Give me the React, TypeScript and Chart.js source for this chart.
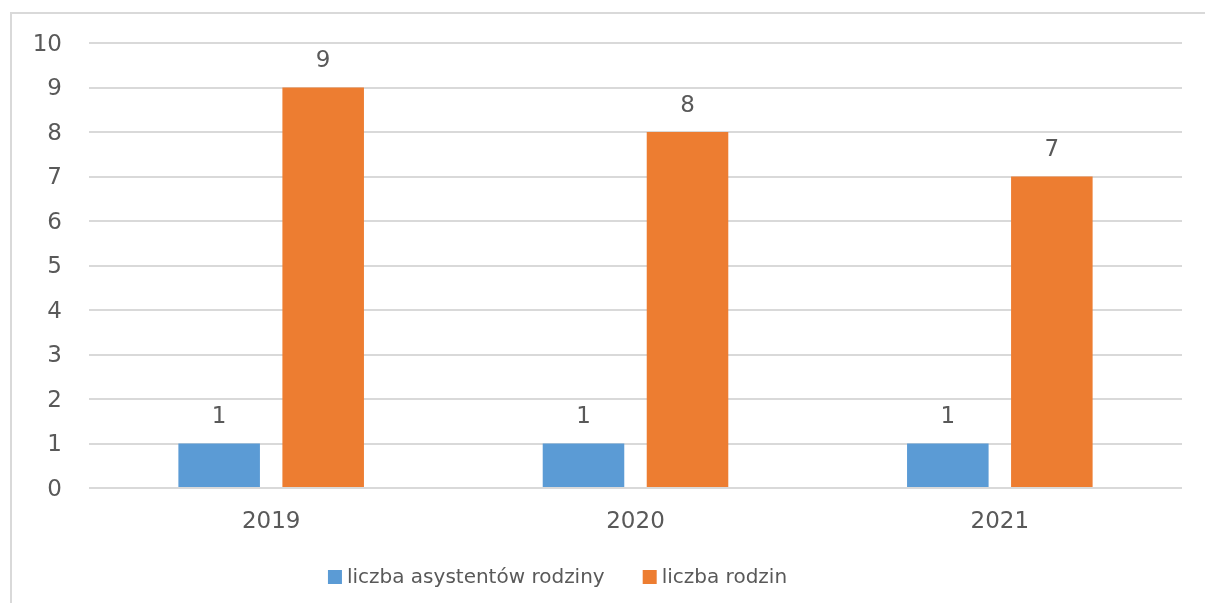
import React, { useEffect, useRef } from "react";
import { Chart, registerables } from "chart.js";

Chart.register(...registerables);

const categories = ["2019", "2020", "2021"];
const seriesNames = ["liczba asystentów rodziny", "liczba rodzin"];
const assistants = [1, 1, 1];
const families = [9, 8, 7];
const yMin = 0;
const yMax = 10;
const yStep = 1;
const seriesColors = ["#5B9BD5", "#ED7D31"];

const FONT = "'DejaVu Sans', sans-serif";
const TEXT = "#595959";
const GRID = "#D9D9D9";

const dataLabels = {
  id: "dataLabels",
  afterDatasetsDraw(chart: any) {
    const ctx = chart.ctx;
    ctx.save();
    ctx.font = `23px ${FONT}`;
    ctx.fillStyle = TEXT;
    ctx.textAlign = "center";
    ctx.textBaseline = "middle";
    chart.data.datasets.forEach((ds: any, i: number) => {
      const meta = chart.getDatasetMeta(i);
      meta.data.forEach((el: any, j: number) => {
        ctx.fillText(String(ds.data[j]), el.x, el.y - 26);
      });
    });
    ctx.restore();
  },
};

const customLegend = {
  id: "customLegend",
  afterDraw(chart: any) {
    const ctx = chart.ctx;
    ctx.save();
    ctx.font = `20px ${FONT}`;
    ctx.textBaseline = "middle";
    ctx.textAlign = "left";
    const box = 14;
    const gap = 5;
    const itemGap = 38;
    const widths = chart.data.datasets.map((d: any) => ctx.measureText(d.label).width);
    const total = widths.reduce((a: number, w: number) => a + box + gap + w, 0) + itemGap * (widths.length - 1);
    const centerX = 557.5;
    const cy = 577;
    let x = centerX - total / 2;
    chart.data.datasets.forEach((d: any, i: number) => {
      ctx.fillStyle = d.backgroundColor;
      ctx.fillRect(x, cy - box / 2, box, box);
      x += box + gap;
      ctx.fillStyle = TEXT;
      ctx.fillText(d.label, x, cy + 1);
      x += widths[i] + itemGap;
    });
    ctx.restore();
  },
};

export default function App() {
  const ref = useRef<HTMLCanvasElement | null>(null);

  useEffect(() => {
    if (!ref.current) return;
    const chart = new Chart(ref.current, {
      type: "bar",
      data: {
        labels: categories,
        datasets: [
          { label: seriesNames[0], data: assistants, backgroundColor: seriesColors[0] },
          { label: seriesNames[1], data: families, backgroundColor: seriesColors[1] },
        ],
      },
      plugins: [dataLabels, customLegend],
      options: {
        animation: false,
        responsive: false,
        maintainAspectRatio: false,
        datasets: {
          bar: { categoryPercentage: 0.571, barPercentage: 0.784 },
        },
        layout: { padding: { left: 0, right: 23, top: 43, bottom: 0 } },
        plugins: {
          legend: { display: false },
          tooltip: { enabled: false },
          title: { display: false },
        },
        scales: {
          x: {
            grid: { display: false },
            border: { display: false },
            ticks: { color: TEXT, font: { family: FONT, size: 23 }, padding: 12 },
            afterFit: (s: any) => {
              s.height = 115;
            },
          },
          y: {
            min: yMin,
            max: yMax,
            grid: { color: GRID, lineWidth: 2, drawTicks: false },
            border: { display: false },
            ticks: { stepSize: yStep, color: TEXT, font: { family: FONT, size: 23 }, padding: 27, labelOffset: 2 },
            afterFit: (s: any) => {
              s.width = 89;
            },
          },
        },
      },
    });
    return () => chart.destroy();
  }, []);

  return (
    <div style={{ position: "fixed", left: 0, top: 0, width: 1205, height: 603, overflow: "hidden", background: "#fff" }}>
      <div style={{ position: "absolute", left: 10, top: 12, width: 1300, height: 2, background: "#D9D9D9" }} />
      <div style={{ position: "absolute", left: 10, top: 12, width: 2, height: 700, background: "#D9D9D9" }} />
      <canvas ref={ref} width={1205} height={603} style={{ position: "absolute", left: 0, top: 0, width: 1205, height: 603 }} />
    </div>
  );
}
